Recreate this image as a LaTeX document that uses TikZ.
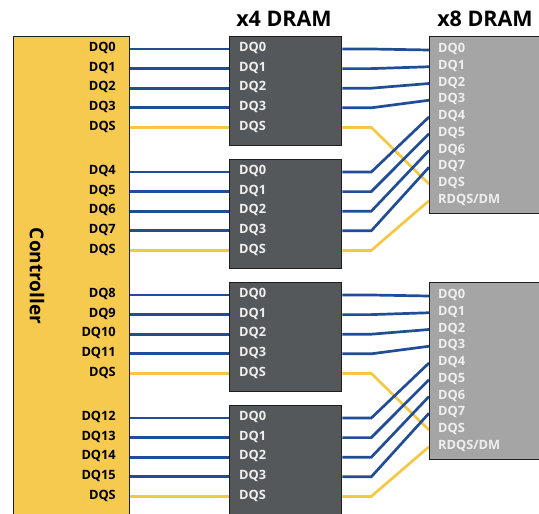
\documentclass[tikz,border=0pt]{standalone}
\usepackage{fontspec}
\setmainfont{Open Sans}
\definecolor{ctrlfill}{HTML}{F6C94F}
\definecolor{xfour}{HTML}{55585A}
\definecolor{xeight}{HTML}{A5A5A5}
\definecolor{wireblue}{HTML}{214D97}
\definecolor{wireyel}{HTML}{F5C843}
\definecolor{pintext}{HTML}{EFEFEF}
\definecolor{edge}{HTML}{1E1E1E}
\pgfdeclarelayer{wires}
\pgfsetlayers{wires,main}
\begin{document}
\begin{tikzpicture}[x=1pt,y=-1pt,
  box/.style={draw=edge, line width=1.3pt, inner sep=0pt, anchor=north west},
  clbl/.style={anchor=mid east, inner sep=0pt, font=\bfseries\fontsize{12.8}{13}\selectfont, text=black},
  albl/.style={anchor=mid west, inner sep=0pt, font=\bfseries\fontsize{12.8}{13}\selectfont, text=pintext},
  title/.style={inner sep=0pt, font=\bfseries\fontsize{21.5}{22}\selectfont, text=black},
  wire/.style={line width=2.7pt}]
\clip (0,0) rectangle (539,514);
% controller
\node[box, fill=ctrlfill, minimum width=116pt, minimum height=500pt] (ctrl) at (13,36) {};
\node[rotate=-90, inner sep=0pt, font=\bfseries\fontsize{19}{20}\selectfont] (ctrltxt) at (37,276) {Controller};
% titles
\node[title] (t4) at (284,19) {x4 DRAM};
\node[title] (t8) at (485,19) {x8 DRAM};
% x8 boxes
\foreach \k in {0,1}{
  \node[box, fill=xeight, minimum width=130pt, minimum height=177pt] (x8-\k) at (429,36+246*\k) {};
  \foreach \j/\t in {0/DQ0,1/DQ1,2/DQ2,3/DQ3,4/DQ4,5/DQ5,6/DQ6,7/DQ7,8/DQS,9/{RDQS/DM}}{
    \coordinate (s-\k-\j) at (0,50+246*\k+16.75*\j);
    \node[albl] (bl-\k-\j) at (438,50+246*\k+16.75*\j) {\t};
  }
}
% x4 boxes and controller pins
\foreach \g in {0,...,3}{
  \pgfmathsetmacro\gy{49+123*\g}
  \node[box, fill=xfour, minimum width=112pt, minimum height=109pt] (x4-\g) at (229,\gy-13) {};
  \foreach \i in {0,...,4}{
    \pgfmathsetmacro\ry{\gy+19.6*\i}
    \pgfmathtruncatemacro\n{4*\g+\i}
    \coordinate (r-\g-\i) at (0,\ry);
    \ifnum\i<4
      \node[clbl] (cl-\g-\i) at (116,\ry) {DQ\n};
      \node[albl] (al-\g-\i) at (239,\ry) {DQ\i};
    \else
      \node[clbl] (cl-\g-\i) at (116,\ry) {DQS};
      \node[albl] (al-\g-\i) at (239,\ry) {DQS};
    \fi
  }
}
% wires
\begin{pgfonlayer}{wires}
\foreach \g in {0,...,3}{
  \pgfmathtruncatemacro\k{int(\g/2)}
  \pgfmathtruncatemacro\h{mod(\g,2)}
  \foreach \i in {0,...,4}{
    \pgfmathtruncatemacro\j{\i<4 ? 4*\h+\i : 8+\h}
    \ifnum\i<4 \def\wc{wireblue}\else\def\wc{wireyel}\fi
    \coordinate (b-\g-\i) at ([xshift=29pt]x4-\g.east |- r-\g-\i);
    \draw[wire, draw=\wc] (ctrl.east |- r-\g-\i) -- (x4-\g.west |- r-\g-\i);
    \draw[wire, draw=\wc] (x4-\g.east |- r-\g-\i) -- (b-\g-\i) -- (x8-\k.west |- s-\k-\j);
  }
}
\end{pgfonlayer}
\end{tikzpicture}
\end{document}
